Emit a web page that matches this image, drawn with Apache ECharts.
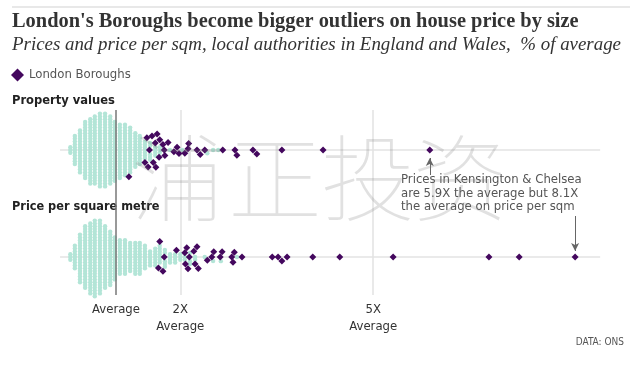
<!DOCTYPE html>
<html><head><meta charset="utf-8">
<script src="https://cdn.jsdelivr.net/npm/echarts@6/dist/echarts.min.js"></script>
<style>html,body{margin:0;padding:0;background:#fff}#c{width:640px;height:365px}</style>
</head><body><div id="c"></div>
<script>
// ---- DATA (multiples of the England & Wales average) ----
// All local authorities: swarm columns and number of authorities per column
const valueColumns = [0.29,0.36,0.44,0.52,0.60,0.67,0.75,0.83,0.91,0.98,1.06,1.14,1.22,1.30,1.37,1.45,1.53,1.61,1.68];
const valueCounts  = [3,11,16,21,24,25,27,27,25,22,20,19,17,13,11,7,5,4,3];
const valueTail    = [1.84,2.03,2.42,2.51,2.59];
const sqmColumns = [0.29,0.36,0.44,0.52,0.60,0.67,0.75,0.83,0.91,0.98,1.06,1.14,1.22,1.30,1.37,1.45,1.53,1.61,1.68,1.76,1.84,1.92,2.00,2.07,2.15,2.23];
const sqmCounts  = [3,9,18,23,26,28,27,23,20,16,13,13,11,12,12,9,6,7,7,5,4,4,3,2,3,2];
const sqmTail    = [2.38,2.51,2.63,2.88];
// London Boroughs
const londonValue = [1.20,1.45,1.48,1.50,1.52,1.56,1.58,1.61,1.62,1.64,1.67,1.68,1.73,1.75,1.76,1.81,1.90,1.95,1.98,2.07,2.12,2.13,2.26,2.31,2.38,2.66,2.85,2.88,3.13,3.19,3.58,4.22,5.88];
const londonSqm   = [1.66,1.68,1.73,1.75,1.94,2.07,2.08,2.10,2.12,2.14,2.21,2.23,2.26,2.28,2.42,2.49,2.52,2.62,2.65,2.80,2.82,2.84,2.96,3.43,3.52,3.58,3.66,4.06,4.48,5.31,6.80,7.27,8.14];
const tickValues = [1,2,5];
const tickLabels = ['Average','2X\nAverage','5X\nAverage'];
const kensington = {value:5.88, sqm:8.14};

// ---- beeswarm layout (offsets in px, x scale = px per unit of the axis) ----
const X_MIN=0, X_MAX=9, GRID_LEFT=51.7, GRID_W=578.7;
const PX = GRID_W/(X_MAX-X_MIN);
function expand(cols,counts,tail){const o=[];cols.forEach((v,i)=>{for(let k=0;k<counts[i];k++)o.push(v);});return o.concat(tail);}
function sep(a,b){ if(a.p&&b.p) return 5.5; if(a.p||b.p) return 4.2; return 2.8; }
function swarm(teal, london){
  const pts = teal.map(v=>({v,p:false})).concat(london.map(v=>({v,p:true})));
  pts.sort((a,b)=>a.v-b.v);
  const placed=[];
  for(const d of pts){
    const x=d.v*PX; d.x=x;
    const near=[]; const cands=[0];
    for(const q of placed){
      const s=sep(d,q), dx=x-q.x;
      if(Math.abs(dx)<s){ near.push([q,s]); const h=Math.sqrt(s*s-dx*dx); cands.push(q.y+h,q.y-h); }
    }
    cands.sort((a,b)=>Math.abs(a)-Math.abs(b)||a-b);
    let y=0;
    for(const c of cands){
      if(near.every(([q,s])=>{const dx=x-q.x,dy=c-q.y;return dx*dx+dy*dy>=s*s-1e-6;})){y=c;break;}
    }
    d.y=y; placed.push(d);
  }
  return placed;
}
const row1 = swarm(expand(valueColumns,valueCounts,valueTail), londonValue);
const row2 = swarm(expand(sqmColumns,sqmCounts,sqmTail), londonSqm);

const TEAL='#b3e5d7', PURPLE='#44085e';
const NARROW='"Liberation Sans Narrow","DejaVu Sans Condensed",sans-serif';
const chart = echarts.init(document.getElementById('c'),null,{renderer:'canvas'});
const xBase = (gi,show)=>({type:'value',gridIndex:gi,min:X_MIN,max:X_MAX,interval:1,
  axisLine:{show:false},axisTick:{show:false},splitLine:{show:false},
  axisLabel:{show:show,margin:6,color:'#333',fontSize:13,lineHeight:17,fontFamily:NARROW,
    formatter:v=>{const i=tickValues.indexOf(v);return i<0?'':tickLabels[i];}}});
const yBase = (gi)=>({type:'value',gridIndex:gi,min:-45,max:45,show:false});
const hLine = {silent:true,z:0,symbol:'none',label:{show:false},lineStyle:{color:'#e3e3e3',width:1.5,type:'solid'},
  data:[[{coord:[0.13,0]},{coord:[8.53,0]}]]};
const WM = {fontFamily:'"Noto Sans CJK SC"',fontWeight:100,fontSize:94,fill:'rgba(120,120,120,0.22)',align:'center',verticalAlign:'middle'};

chart.setOption({
  animation:false,
  grid:[
    {left:GRID_LEFT,width:GRID_W,top:105,height:90},
    {left:GRID_LEFT,width:GRID_W,top:212,height:90},
    {left:GRID_LEFT,width:GRID_W,top:110,height:185}
  ],
  xAxis:[xBase(0,false),xBase(1,false),xBase(2,true)],
  yAxis:[yBase(0),yBase(1),{type:'value',gridIndex:2,min:0,max:1,show:false}],
  legend:{data:['London Boroughs'],left:11,top:68.5,padding:0,icon:'diamond',itemWidth:13,itemHeight:13,itemGap:5,
    itemStyle:{opacity:1},textStyle:{color:'#555',fontSize:13,fontFamily:NARROW}},
  graphic:[
    {type:'line',shape:{x1:12,y1:7,x2:630,y2:7},style:{stroke:'#e8e8e8',lineWidth:2},silent:true},
    {type:'text',style:{text:"London's Boroughs become bigger outliers on house price by size",x:12,y:22,verticalAlign:'middle',
      fontFamily:'"Liberation Serif",serif',fontWeight:'bold',fontSize:20.4,fill:'#333'}},
    {type:'text',style:{text:"Prices and price per sqm, local authorities in England and Wales,  % of average",x:12,y:45,verticalAlign:'middle',
      fontFamily:'"Liberation Serif",serif',fontStyle:'italic',fontSize:18.9,fill:'#333'}},
    {type:'text',style:{text:'Property values',x:12,y:101,verticalAlign:'middle',fontFamily:NARROW,fontWeight:'bold',fontSize:12.8,fill:'#222'}},
    {type:'text',style:{text:'Price per square metre',x:12,y:207,verticalAlign:'middle',fontFamily:NARROW,fontWeight:'bold',fontSize:12.6,fill:'#222'}},
    {type:'text',style:{text:'Prices in Kensington & Chelsea\nare 5.9X the average but 8.1X\nthe average on price per sqm',x:401,y:173,
      verticalAlign:'top',lineHeight:13.5,fontFamily:NARROW,fontSize:13,fill:'#555'}},
    {type:'text',style:{text:'DATA: ONS',x:624,y:342,align:'right',verticalAlign:'middle',fontFamily:NARROW,fontSize:10,fill:'#555'}},
    {type:'text',z:100,silent:true,style:Object.assign({text:'浦',x:178,y:178},WM)},
    {type:'text',z:100,silent:true,style:Object.assign({text:'正',x:275,y:178},WM)},
    {type:'text',z:100,silent:true,style:Object.assign({text:'投',x:368,y:178},WM)},
    {type:'text',z:100,silent:true,style:Object.assign({text:'资',x:460,y:178},WM)}
  ],
  series:[
    {name:'ref',type:'scatter',z:0,xAxisIndex:2,yAxisIndex:2,data:[],silent:true,
      markLine:{silent:true,z:0,symbol:'none',label:{show:false},
        data:[{xAxis:tickValues[1],lineStyle:{color:'#e2e2e2',width:1.5,type:'solid'}},
              {xAxis:tickValues[2],lineStyle:{color:'#e2e2e2',width:1.5,type:'solid'}}]}},
    {name:'avg',type:'scatter',z:3,xAxisIndex:2,yAxisIndex:2,data:[],silent:true,
      markLine:{silent:true,z:3.5,symbol:'none',label:{show:false},
        data:[{xAxis:tickValues[0],lineStyle:{color:'#777',width:1.5,type:'solid'}}]}},
    {name:'All',type:'scatter',z:3,xAxisIndex:0,yAxisIndex:0,symbol:'circle',symbolSize:4.4,silent:true,
      itemStyle:{color:TEAL,opacity:1},data:row1.filter(d=>!d.p).map(d=>[d.v,d.y]),markLine:hLine},
    {name:'All',type:'scatter',z:3,xAxisIndex:1,yAxisIndex:1,symbol:'circle',symbolSize:4.4,silent:true,
      itemStyle:{color:TEAL,opacity:1},data:row2.filter(d=>!d.p).map(d=>[d.v,d.y]),markLine:hLine},
    {name:'London Boroughs',type:'scatter',z:4,xAxisIndex:0,yAxisIndex:0,symbol:'diamond',symbolSize:7,silent:true,
      itemStyle:{color:PURPLE,opacity:1,borderWidth:0},data:row1.filter(d=>d.p).map(d=>[d.v,d.y]),
      markLine:{silent:true,symbol:['none','arrow'],symbolSize:[6,8],label:{show:false},lineStyle:{color:'#666',width:1,type:'solid'},
        data:[[{coord:[kensington.value,-25]},{coord:[kensington.value,-8]}]]}},
    {name:'London Boroughs',type:'scatter',z:4,xAxisIndex:1,yAxisIndex:1,symbol:'diamond',symbolSize:7,silent:true,
      itemStyle:{color:PURPLE,opacity:1,borderWidth:0},data:row2.filter(d=>d.p).map(d=>[d.v,d.y]),
      markLine:{silent:true,symbol:['none','arrow'],symbolSize:[6,8],label:{show:false},lineStyle:{color:'#666',width:1,type:'solid'},
        data:[[{coord:[kensington.sqm,41]},{coord:[kensington.sqm,6]}]]}}
  ]
});
</script></body></html>
